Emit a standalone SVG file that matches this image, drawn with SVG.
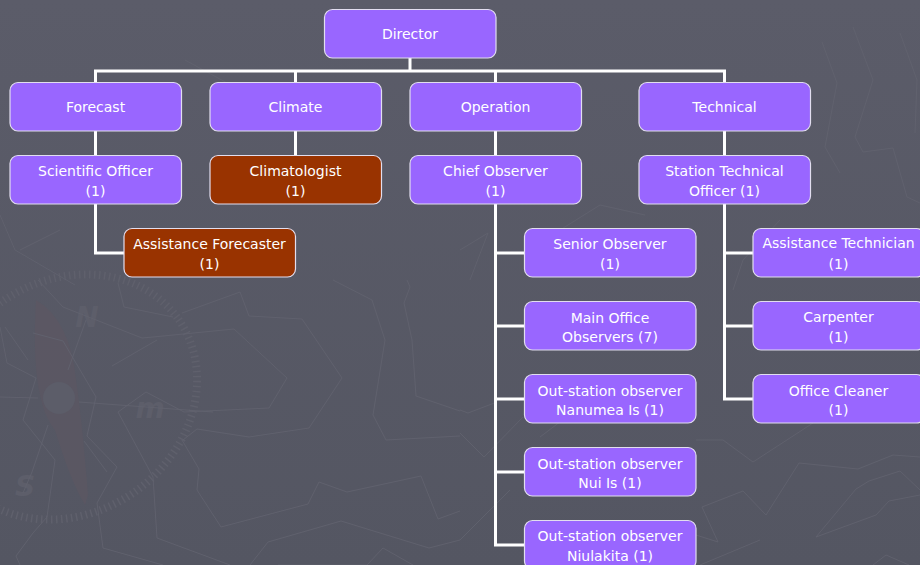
<svg xmlns="http://www.w3.org/2000/svg" width="920" height="565" viewBox="0 0 920 565">
<style>
.n{stroke:#e2deef;stroke-width:1.2}
.p{fill:#9966ff}
.b{fill:#993300}
text{font-family:"DejaVu Sans","Noto Sans",sans-serif;font-size:14px;fill:#fff;text-anchor:middle}
.c{fill:none;stroke:#fff;stroke-width:3}
.g{fill:none;stroke:#61626e;stroke-width:.9}
.m{font-size:28px;font-weight:bold;font-style:italic;fill:#5d5e6a}
</style>
<defs>
<linearGradient id="bg" x1="0" y1="0" x2="0" y2="1"><stop offset="0" stop-color="#5b5c69"/><stop offset="1" stop-color="#545662"/></linearGradient>
</defs>
<rect width="920" height="565" fill="url(#bg)"/>
<g id="background">
<ellipse cx="68" cy="397" rx="135" ry="116" transform="rotate(-35 68 397)" fill="none" stroke="#5f606c" stroke-width="8" stroke-dasharray="1.5 3.5"/>
<path d="M36 300Q30 400 55 430Q70 480 85 505L88 495Q82 420 76 380Q70 320 36 300Z" fill="#5c5763" opacity=".7"/>
<circle cx="59" cy="398" r="16" fill="#5c5d69"/>
<text x="87" y="327" class="m">N</text>
<text x="25" y="496" class="m">S</text>
<text x="150" y="418" class="m">m</text>
<path class="g" d="M333 280L372 300L385 340L373 415L386 440L460 436M407 280L410 287L404 303L412 340L416 396L460 411M182 313L240 292L249 316L302 319L342 378L309 428L249 437L197 429L183 440M153 337L234 329L287 378L269 408L184 412L146 392L118 412L153 477L157 538L230 565M182 440L199 469L197 490L221 527L308 504L319 482L347 492L421 476L438 519L460 511M250 565L268 542L341 521L429 548L460 540M278 565H367L383 548L413 565M38 280L63 307L142 338L153 337M118 283L124 307L173 317M0 397L38 398M79 402L213 412M68 370L86 320M48 425L32 472L23 493M112 366L157 340M0 327L7 363L36 378L23 420L55 460L47 517L33 533L16 556L20 565M5 327L28 360M33 333L63 341L96 397L87 436L117 467L97 503L103 548L163 565M84 441L107 472"/>
<path class="g" d="M696 440H723L753 462L813 423M696 535L718 542L702 507L743 491L766 515L799 463L858 469L893 455L920 457M920 490L900 471L869 481L856 489L816 537L876 515L889 501L920 495M873 565L886 555L909 565M460 410L468 413L497 402M460 433L484 457L523 417M540 437L593 397M460 540L510 490M853 27L873 80L855 137L863 152L893 148L907 197L920 203M900 33L917 80L915 133M822 42L837 83L825 147L840 173M733 290L743 260L780 220M460 250L488 233L470 280M700 565L760 540M520 330L570 305M0 215L15 250L75 285M20 250L60 230M185 60L240 90M560 230L600 205L645 215"/>
</g>
<g id="connectors">
<path class="c" d="M410 58V71M95.500 82V71H724.500V82M295.500 71V82M495.500 71V82M95.500 131V155M295.500 131V155M495.500 131V155M724.500 131V155"/>
<path class="c" d="M95.500 204V253H124"/>
<path class="c" d="M495.500 204V545H524M495.500 253H524M495.500 326H524M495.500 399H524M495.500 472H524"/>
<path class="c" d="M724.500 204V399H753M724.500 253H753M724.500 326H753"/>
</g>
<g id="director"><rect class="n p" x="324.500" y="9.500" width="171.500" height="48.500" rx="8"/><text x="410" y="39">Director</text></g>
<g id="forecast"><rect class="n p" x="10" y="82.500" width="171.500" height="48.500" rx="8"/><text x="95.500" y="112">Forecast</text></g>
<g id="climate"><rect class="n p" x="210" y="82.500" width="171.500" height="48.500" rx="8"/><text x="295.500" y="112">Climate</text></g>
<g id="operation"><rect class="n p" x="410" y="82.500" width="171.500" height="48.500" rx="8"/><text x="495.500" y="112">Operation</text></g>
<g id="technical"><rect class="n p" x="639" y="82.500" width="171.500" height="48.500" rx="8"/><text x="724.500" y="112">Technical</text></g>
<g id="scientific-officer"><rect class="n p" x="10" y="155.500" width="171.500" height="48.500" rx="8"/><text x="95.500" y="176">Scientific Officer</text><text x="95.500" y="196">(1)</text></g>
<g id="climatologist"><rect class="n b" x="210" y="155.500" width="171.500" height="48.500" rx="8"/><text x="295.500" y="176">Climatologist</text><text x="295.500" y="196">(1)</text></g>
<g id="chief-observer"><rect class="n p" x="410" y="155.500" width="171.500" height="48.500" rx="8"/><text x="495.500" y="176">Chief Observer</text><text x="495.500" y="196">(1)</text></g>
<g id="station-technical"><rect class="n p" x="639" y="155.500" width="171.500" height="48.500" rx="8"/><text x="724.500" y="176">Station Technical</text><text x="724.500" y="196">Officer (1)</text></g>
<g id="assistance-forecaster"><rect class="n b" x="124" y="228.500" width="171.500" height="48.500" rx="8"/><text x="209.500" y="249">Assistance Forecaster</text><text x="209.500" y="269">(1)</text></g>
<g id="senior-observer"><rect class="n p" x="524.500" y="228.500" width="171.500" height="48.500" rx="8"/><text x="610" y="249">Senior Observer</text><text x="610" y="269">(1)</text></g>
<g id="main-office"><rect class="n p" x="524.500" y="301.500" width="171.500" height="48.500" rx="8"/><text x="610" y="323">Main Office</text><text x="610" y="342">Observers (7)</text></g>
<g id="nanumea"><rect class="n p" x="524.500" y="374.500" width="171.500" height="48.500" rx="8"/><text x="610" y="396">Out-station observer</text><text x="610" y="415">Nanumea Is (1)</text></g>
<g id="nui"><rect class="n p" x="524.500" y="447.500" width="171.500" height="48.500" rx="8"/><text x="610" y="469">Out-station observer</text><text x="610" y="488">Nui Is (1)</text></g>
<g id="niulakita"><rect class="n p" x="524.500" y="520.500" width="171.500" height="48.500" rx="8"/><text x="610" y="541">Out-station observer</text><text x="610" y="561">Niulakita (1)</text></g>
<g id="assistance-technician"><rect class="n p" x="753" y="228.500" width="171.500" height="48.500" rx="8"/><text x="838.500" y="248">Assistance Technician</text><text x="838.500" y="269">(1)</text></g>
<g id="carpenter"><rect class="n p" x="753" y="301.500" width="171.500" height="48.500" rx="8"/><text x="838.500" y="322">Carpenter</text><text x="838.500" y="342">(1)</text></g>
<g id="office-cleaner"><rect class="n p" x="753" y="374.500" width="171.500" height="48.500" rx="8"/><text x="838.500" y="396">Office Cleaner</text><text x="838.500" y="415">(1)</text></g>
</svg>
